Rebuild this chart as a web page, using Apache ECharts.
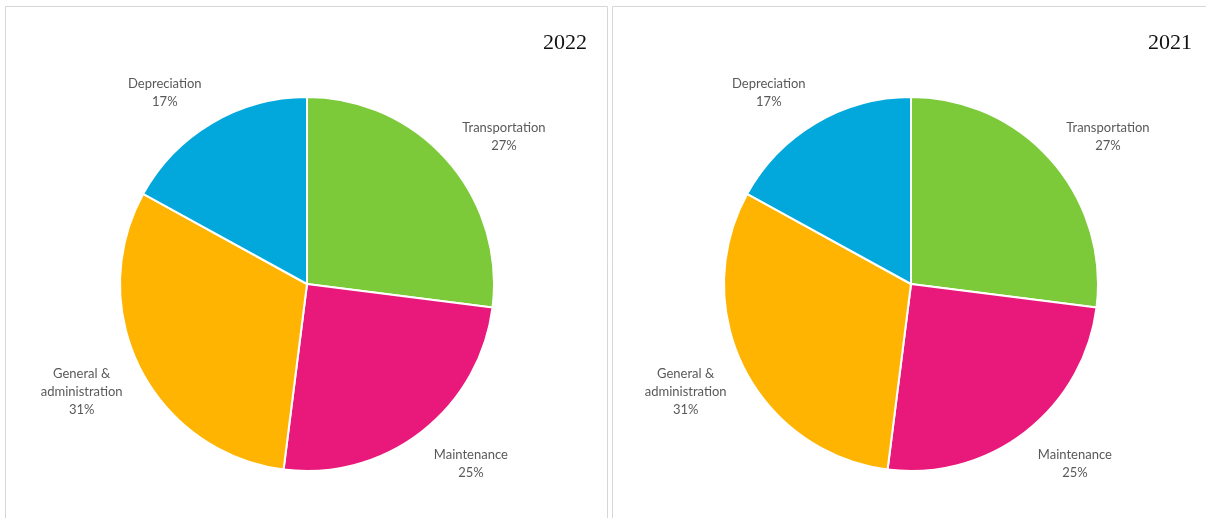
<!DOCTYPE html>
<html>
<head>
<meta charset="utf-8">
<script src="https://cdn.jsdelivr.net/npm/echarts@6/dist/echarts.min.js"></script>
<style>
  html, body { margin: 0; padding: 0; background: #fff; }
  #main { width: 1206px; height: 518px; }
</style>
</head>
<body>
<div id="main"></div>
<script>
// 数据
var categories = ['Transportation', 'Maintenance', 'General &\nadministration', 'Depreciation']
var values2022 = [27, 25, 31, 17]
var values2021 = [27, 25, 31, 17]
var years = ['2022', '2021']
var colors = ['#7cc93a', '#e8197b', '#ffb402', '#02a8db']

function buildData(values) {
  return categories.map(function (name, i) {
    return { name: name, value: values[i], itemStyle: { color: colors[i] } }
  })
}

// 标签放在扇区外侧，类似 Excel 的摆放方式
function labelLayout(params) {
  var pts = params.labelLinePoints
  if (!pts) return {}
  var dx = pts[1][0] - pts[0][0]
  var dy = pts[1][1] - pts[0][1]
  var len = Math.sqrt(dx * dx + dy * dy) || 1
  dx /= len
  dy /= len
  var w = params.labelRect.width
  var h = params.labelRect.height
  return {
    x: pts[1][0] + (dx >= 0 ? w / 2 : -w / 2),
    y: pts[1][1] + dy * h / 2 + 2,
    align: 'center',
    verticalAlign: 'middle'
  }
}

function pieSeries(values, center) {
  return {
    type: 'pie',
    center: center,
    radius: 187,
    startAngle: 90,
    clockwise: true,
    animation: false,
    silent: true,
    itemStyle: { borderColor: '#fff', borderWidth: 2 },
    label: {
      show: true,
      position: 'outside',
      formatter: '{b}\n{d}%',
      fontFamily: 'Lato',
      fontSize: 13,
      lineHeight: 18,
      color: '#595959',
      overflow: 'none'
    },
    labelLine: { show: false, length: 20, length2: 0 },
    labelLayout: labelLayout,
    data: buildData(values)
  }
}

var myChart = echarts.init(document.getElementById('main'))
myChart.setOption({
  backgroundColor: '#fff',
  title: [
    {
      text: years[0], right: 614, top: 27,
      textStyle: { fontFamily: 'Liberation Serif', fontSize: 22, fontWeight: 'normal', color: '#111' }
    },
    {
      text: years[1], right: 9, top: 27,
      textStyle: { fontFamily: 'Liberation Serif', fontSize: 22, fontWeight: 'normal', color: '#111' }
    }
  ],
  // 面板边框
  graphic: [
    { type: 'rect', shape: { x: 5.5, y: 6.5, width: 602, height: 530 }, style: { fill: 'none', stroke: '#d6d6d6', lineWidth: 1 }, silent: true },
    { type: 'rect', shape: { x: 612.5, y: 6.5, width: 600, height: 530 }, style: { fill: 'none', stroke: '#d6d6d6', lineWidth: 1 }, silent: true }
  ],
  series: [
    pieSeries(values2022, [307, 284]),
    pieSeries(values2021, [911, 284])
  ]
})
</script>
</body>
</html>
